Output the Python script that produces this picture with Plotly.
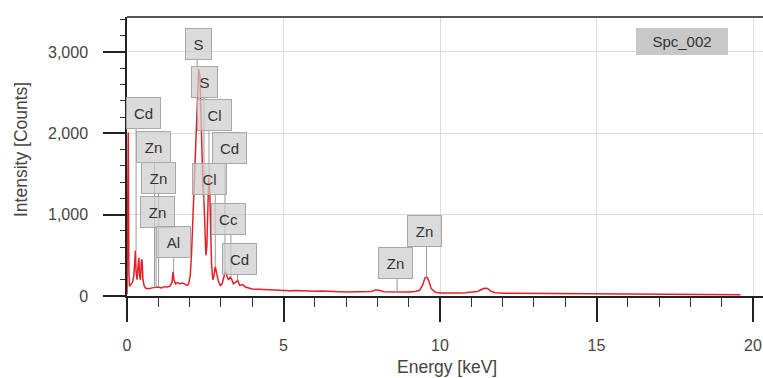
import plotly.graph_objects as go

# ---------------- data ----------------
energy_kev = [
    0.00, 0.02, 0.04, 0.06, 0.08, 0.12, 0.18, 0.22, 0.25, 0.27, 0.29, 0.32, 0.35, 0.38, 0.40,
    0.43, 0.46, 0.48, 0.51, 0.55, 0.60, 0.70, 0.80, 0.90, 1.00, 1.10, 1.20, 1.30, 1.38, 1.44,
    1.47, 1.50, 1.55, 1.62, 1.70, 1.78, 1.85, 1.92, 1.97, 2.02, 2.06, 2.10, 2.15, 2.20, 2.25,
    2.29, 2.33, 2.37, 2.40, 2.43, 2.46, 2.49, 2.52, 2.55, 2.58, 2.61, 2.64, 2.67, 2.70, 2.74,
    2.78, 2.82, 2.86, 2.92, 2.98, 3.04, 3.10, 3.14, 3.18, 3.24, 3.30, 3.34, 3.40, 3.48, 3.54,
    3.60, 3.70, 3.78, 3.90, 4.00, 4.20, 4.40, 4.60, 4.80, 5.00, 5.20, 5.40, 5.60, 5.80, 6.00,
    6.20, 6.40, 6.60, 6.80, 7.00, 7.20, 7.40, 7.60, 7.80, 7.95, 8.05, 8.20, 8.40, 8.60, 8.80,
    9.00, 9.20, 9.35, 9.45, 9.52, 9.58, 9.64, 9.72, 9.85, 10.00, 10.20, 10.40, 10.60, 10.80, 11.00,
    11.20, 11.32, 11.42, 11.52, 11.62, 11.75, 11.90, 12.10, 12.40, 12.70, 13.00, 13.30, 13.60, 13.90,
    14.20, 14.50, 14.80, 15.10, 15.40, 15.70, 16.00, 16.30, 16.60, 16.90, 17.20, 17.50, 17.80,
    18.10, 18.40, 18.70, 19.00, 19.30, 19.60,
]
counts = [
    20, 2000, 2010, 300, 120, 140, 170, 260, 520, 560, 300, 200, 350, 470, 250,
    200, 430, 450, 200, 120, 95, 90, 100, 105, 110, 100, 115, 110, 125, 170,
    300, 200, 150, 165, 150, 160, 140, 130, 150, 250, 500, 900, 1400, 1900, 2500,
    2790, 2700, 2100, 1600, 1300, 1150, 800, 500, 600, 1100, 1450, 1350, 800, 400, 200,
    250, 360, 280, 180, 130, 150, 240, 300, 260, 200, 230, 210, 150, 170, 190,
    130, 140, 110, 95, 85, 82, 78, 74, 76, 70, 66, 68, 62, 60, 58,
    60, 55, 56, 52, 50, 52, 48, 50, 55, 75, 70, 52, 50, 55, 50,
    48, 55, 70, 140, 225, 235, 190, 90, 45, 38, 36, 35, 36, 40, 45,
    55, 80, 95, 92, 60, 40, 35, 34, 33, 32, 30, 31, 29, 30,
    28, 27, 28, 26, 25, 26, 24, 25, 23, 24, 22, 23, 21,
    21, 20, 20, 19, 18, 15,
]

x_tick_values = [0, 5, 10, 15, 20]
x_tick_labels = ["0", "5", "10", "15", "20"]
y_tick_values = [0, 1000, 2000, 3000]
y_tick_labels = ["0", "1,000", "2,000", "3,000"]

# element labels: text, box centre energy, box centre height, marker energy, marker end height
label_text = ["S", "S", "Cd", "Cl", "Zn", "Cd", "Zn", "Cl", "Zn", "Cc", "Al", "Cd", "Zn", "Zn"]
label_x = [2.27, 2.46, 0.54, 2.81, 0.86, 3.29, 1.02, 2.65, 0.96, 3.23, 1.50, 3.58, 8.59, 9.52]
label_y = [3098, 2631, 2250, 2225, 1832, 1820, 1451, 1439, 1033, 947, 664, 455, 406, 799]
marker_x = [2.24, 2.46, 0.29, 2.62, 0.88, 3.13, 1.01, 2.82, 0.93, 3.32, 1.49, 3.53, 8.63, 9.57]
marker_end = [2800, 1150, 560, 1450, 105, 300, 110, 360, 105, 230, 300, 190, 55, 230]

# ---------------- figure ----------------
W, H = 763, 378
L, T, R, B = 127, 17, 0, 82
pw, ph = W - L - R, H - T - B
Y_MAX = 3430
PX_PER_COUNT = ph / float(Y_MAX)
half_box = 14.5 / PX_PER_COUNT

fig = go.Figure()
fig.add_trace(go.Scatter(
    x=energy_kev, y=counts, mode="lines",
    line=dict(color="#e3202a", width=1.5),
    hoverinfo="skip", showlegend=False,
))

shapes = []
for mx, ly, me in zip(marker_x, label_y, marker_end):
    shapes.append(dict(type="line", xref="x", yref="y", x0=mx, x1=mx,
                       y0=ly - half_box, y1=me, line=dict(color="#9a9a9a", width=1),
                       layer="above"))
shapes.append(dict(type="line", xref="paper", yref="paper", x0=0, x1=1, y0=1, y1=1,
                   line=dict(color="#555555", width=2)))

annotations = []
for t, lx, ly in zip(label_text, label_x, label_y):
    annotations.append(dict(
        x=lx, y=ly, xref="x", yref="y", text=t, showarrow=False,
        font=dict(family="Liberation Sans, Arial", size=15, color="#333333"),
        bgcolor="rgba(205,205,205,0.72)", bordercolor="#a8a8a8", borderwidth=1,
        width=23 if len(t) == 1 else 31, height=28,
    ))
annotations.append(dict(
    x=17.73, y=3123, xref="x", yref="y", text="Spc_002", showarrow=False,
    font=dict(family="Liberation Sans, Arial", size=15, color="#333333"),
    bgcolor="#c8c8c8", borderwidth=0, width=90, height=25,
))
annotations.append(dict(
    x=(447 - L) / pw, y=(H - B - 367) / ph, xref="paper", yref="paper",
    xanchor="center", yanchor="middle", text="Energy [keV]", showarrow=False,
    font=dict(family="Liberation Sans, Arial", size=17.5, color="#444444"),
))
annotations.append(dict(
    x=(21 - L) / pw, y=(H - B - 150) / ph, xref="paper", yref="paper",
    xanchor="center", yanchor="middle", text="Intensity [Counts]", showarrow=False,
    textangle=-90, font=dict(family="Liberation Sans, Arial", size=17.5, color="#444444"),
))

fig.update_layout(
    width=W, height=H,
    margin=dict(l=L, r=R, t=T, b=B, pad=0),
    paper_bgcolor="white", plot_bgcolor="white",
    font=dict(family="Liberation Sans, Arial", size=15, color="#444444"),
    shapes=shapes, annotations=annotations,
    xaxis=dict(
        range=[0, pw / 31.3], tickvals=x_tick_values, ticktext=x_tick_labels,
        showgrid=True, gridcolor="#dcdcdc", gridwidth=1, zeroline=False,
        showline=True, linecolor="#222222", linewidth=1.5,
        ticks="outside", ticklen=24, tickwidth=1.5, tickcolor="#222222",
        minor=dict(dtick=1, ticks="outside", ticklen=9, tickwidth=1.2, tickcolor="#333333", showgrid=False),
        ticklabelstandoff=10, tickfont=dict(size=16, color="#444444"),
    ),
    yaxis=dict(
        range=[0, Y_MAX], tickvals=y_tick_values, ticktext=y_tick_labels,
        showgrid=True, gridcolor="#dcdcdc", gridwidth=1, zeroline=False,
        showline=True, linecolor="#222222", linewidth=1.5,
        ticks="outside", ticklen=22, tickwidth=1.5, tickcolor="#222222",
        minor=dict(dtick=200, ticks="outside", ticklen=5, tickwidth=1.2, tickcolor="#333333", showgrid=False),
        ticklabelstandoff=12, tickfont=dict(size=16, color="#444444"),
    ),
)

fig.write_html(
    "out.html",
    config={"displayModeBar": False},
    post_script="document.body.style.margin='0';document.body.style.overflow='hidden';",
)
